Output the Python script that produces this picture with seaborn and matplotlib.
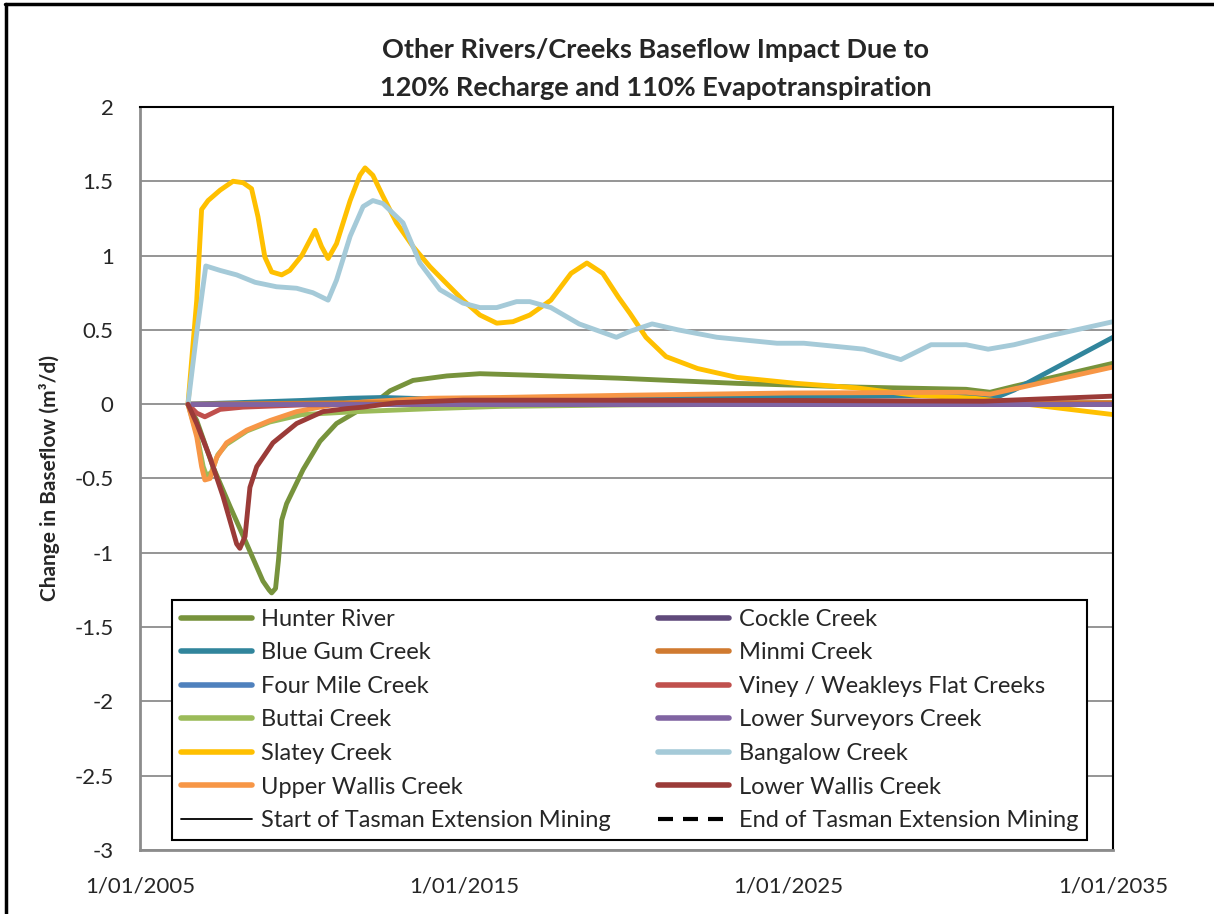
import numpy as np
import pandas as pd
import matplotlib
matplotlib.use("Agg")
import matplotlib.pyplot as plt
from matplotlib.lines import Line2D
import seaborn as sns

# ---- data (decimal years, change in baseflow m3/d) ----
hunter_x = [2006.48, 2006.75, 2007.25, 2007.78, 2008.29, 2008.79, 2008.98, 2009.06, 2009.18, 2009.27, 2009.37, 2009.52,
            2010.03, 2010.55, 2011.06, 2011.68, 2012.30, 2012.71, 2013.42, 2014.46, 2015.48, 2017.02,
            2019.75, 2023.41, 2027.08, 2030.47, 2031.21, 2031.95, 2035.0]
hunter_y = [0, -0.11, -0.42, -0.69, -0.94, -1.19, -1.25, -1.27, -1.24, -1.05, -0.78, -0.67,
            -0.44, -0.25, -0.13, -0.05, 0.02, 0.09, 0.16, 0.19, 0.205, 0.195,
            0.175, 0.14, 0.115, 0.10, 0.08, 0.12, 0.275]

bluegum_x = [2006.48, 2008.0, 2010.0, 2011.5, 2012.5, 2014.0, 2020.0, 2030.0, 2031.45, 2031.95, 2035.0]
bluegum_y = [0, 0.01, 0.025, 0.04, 0.045, 0.035, 0.04, 0.06, 0.05, 0.095, 0.45]

fourmile_x = [2006.48, 2015.0, 2035.0]
fourmile_y = [0, 0.005, 0.005]

buttai_x = [2006.48, 2006.75, 2006.95, 2007.05, 2007.20, 2007.40, 2007.67, 2008.30, 2009.00, 2010.00,
            2011.70, 2014.00, 2016.10, 2020.0, 2025.0, 2035.0]
buttai_y = [0, -0.20, -0.42, -0.48, -0.46, -0.34, -0.27, -0.18, -0.12, -0.07,
            -0.05, -0.03, -0.015, -0.005, 0.0, 0.01]

slatey_x = [2006.48, 2006.75, 2006.90, 2007.10, 2007.47, 2007.87, 2008.18, 2008.44, 2008.64, 2008.85,
            2009.06, 2009.37, 2009.62, 2009.99, 2010.40, 2010.60, 2010.80, 2011.06, 2011.48, 2011.78,
            2011.94, 2012.18, 2012.49, 2012.91, 2013.42, 2013.94, 2014.46, 2014.96, 2015.48, 2016.00,
            2016.50, 2017.02, 2017.67, 2018.29, 2018.78, 2019.27, 2019.75, 2020.11, 2020.60, 2021.22,
            2022.19, 2023.41, 2025.23, 2027.08, 2028.90, 2030.71, 2031.95, 2035.0]
slatey_y = [0, 0.70, 1.31, 1.37, 1.44, 1.50, 1.49, 1.45, 1.26, 0.99,
            0.89, 0.87, 0.90, 1.00, 1.17, 1.06, 0.98, 1.08, 1.37, 1.54,
            1.59, 1.54, 1.40, 1.22, 1.06, 0.925, 0.81, 0.70, 0.60, 0.545,
            0.555, 0.60, 0.70, 0.88, 0.95, 0.88, 0.72, 0.61, 0.45, 0.32,
            0.24, 0.18, 0.14, 0.11, 0.06, 0.04, 0.01, -0.07]

upperwallis_x = [2006.48, 2006.75, 2006.90, 2007.00, 2007.16, 2007.36, 2007.67, 2008.29, 2009.01, 2009.83,
                 2010.86, 2011.88, 2013.94, 2016.10, 2020.0, 2025.0, 2030.47, 2031.21, 2035.0]
upperwallis_y = [0, -0.22, -0.42, -0.51, -0.50, -0.36, -0.26, -0.175, -0.11, -0.05,
                 -0.007, 0.015, 0.04, 0.045, 0.06, 0.075, 0.08, 0.067, 0.25]

cockle_x = [2006.48, 2035.0]
cockle_y = [0, 0]

minmi_x = [2006.48, 2012.0, 2035.0]
minmi_y = [0, 0.01, 0.01]

viney_x = [2006.48, 2006.75, 2007.00, 2007.47, 2008.18, 2010.0, 2015.0, 2035.0]
viney_y = [0, -0.06, -0.085, -0.035, -0.02, -0.005, 0.0, 0.0]

lowersurv_x = [2006.48, 2035.0]
lowersurv_y = [0, 0]

bangalow_x = [2006.48, 2006.75, 2007.03, 2007.47, 2007.98, 2008.55, 2009.21, 2009.83, 2010.33, 2010.80,
              2011.06, 2011.48, 2011.88, 2012.18, 2012.49, 2013.11, 2013.63, 2014.25, 2014.96, 2015.48,
              2016.00, 2016.61, 2017.02, 2017.67, 2018.54, 2019.69, 2020.11, 2020.79, 2021.59, 2022.79,
              2024.64, 2025.47, 2027.32, 2028.46, 2029.39, 2030.47, 2031.15, 2031.95, 2033.15, 2035.0]
bangalow_y = [0, 0.48, 0.93, 0.90, 0.87, 0.82, 0.79, 0.78, 0.75, 0.70,
              0.835, 1.13, 1.33, 1.37, 1.35, 1.22, 0.95, 0.77, 0.68, 0.65,
              0.65, 0.69, 0.69, 0.65, 0.54, 0.45, 0.49, 0.54, 0.50, 0.45,
              0.41, 0.41, 0.37, 0.30, 0.40, 0.40, 0.37, 0.40, 0.465, 0.555]

lowerwallis_x = [2006.48, 2006.75, 2007.16, 2007.56, 2007.98, 2008.08, 2008.24, 2008.39, 2008.60, 2009.10,
                 2009.83, 2010.64, 2011.37, 2011.88, 2012.91, 2014.96, 2017.02, 2025.0, 2031.0, 2035.0]
lowerwallis_y = [0, -0.13, -0.36, -0.62, -0.94, -0.97, -0.89, -0.56, -0.42, -0.26,
                 -0.13, -0.05, -0.03, -0.02, 0.01, 0.027, 0.027, 0.025, 0.02, 0.054]

series_names = ["Hunter River", "Blue Gum Creek", "Four Mile Creek", "Buttai Creek", "Slatey Creek",
                "Upper Wallis Creek", "Cockle Creek", "Minmi Creek", "Viney / Weakleys Flat Creeks",
                "Lower Surveyors Creek", "Bangalow Creek", "Lower Wallis Creek"]
series_data = [(hunter_x, hunter_y), (bluegum_x, bluegum_y), (fourmile_x, fourmile_y),
               (buttai_x, buttai_y), (slatey_x, slatey_y), (upperwallis_x, upperwallis_y),
               (cockle_x, cockle_y), (minmi_x, minmi_y), (viney_x, viney_y),
               (lowersurv_x, lowersurv_y), (bangalow_x, bangalow_y), (lowerwallis_x, lowerwallis_y)]
colors = ["#77933C", "#31859C", "#4F81BD", "#9BBB59", "#FFC000", "#F79646",
          "#604A7B", "#D07A30", "#C0504D", "#8064A2", "#A5CAD8", "#9B3B38"]

y_ticks = [-3, -2.5, -2, -1.5, -1, -0.5, 0, 0.5, 1, 1.5, 2]
x_ticks = [2005, 2015, 2025, 2035]
x_tick_labels = ["1/01/2005", "1/01/2015", "1/01/2025", "1/01/2035"]

rows = []
for name, (xs, ys) in zip(series_names, series_data):
    for x, y in zip(xs, ys):
        rows.append({"series": name, "year": x, "value": y})
df = pd.DataFrame(rows)

sns.set_style("white")
plt.rcParams["font.family"] = ["Lato", "DejaVu Sans"]

fig = plt.figure(figsize=(12.14, 9.14), dpi=100)
ax = fig.add_axes([0.1153, 0.070, 0.8015, 0.813])

for y in y_ticks:
    ax.axhline(y, color="#8C8C8C", lw=1.3, zorder=0)

sns.lineplot(data=df, x="year", y="value", hue="series", hue_order=series_names,
             palette=dict(zip(series_names, colors)), linewidth=3.5, sort=True,
             estimator=None, ax=ax, legend=False)
for ln in ax.get_lines():
    ln.set_solid_joinstyle("round")
    ln.set_solid_capstyle("round")

ax.set_xlim(2005, 2035)
ax.set_ylim(-3, 2)
ax.set_xticks(x_ticks)
ax.set_xticklabels(x_tick_labels, fontsize=16)
ax.set_yticks(y_ticks)
ax.set_yticklabels([f"{v:g}" for v in y_ticks], fontsize=16)
ax.tick_params(axis="x", length=0, pad=19)
ax.tick_params(axis="y", length=5, color="#8C8C8C", pad=14)
ax.set_xlabel("")
ax.set_ylabel("Change in Baseflow (m³/d)", fontsize=15, fontweight="bold", labelpad=10)

for side in ["left", "bottom"]:
    ax.spines[side].set_color("#8C8C8C")
    ax.spines[side].set_linewidth(2)
for side in ["top", "right"]:
    ax.spines[side].set_color("black")
    ax.spines[side].set_linewidth(1.5)

handles = [Line2D([], [], color=c, lw=4) for c in colors[:6]]
handles.append(Line2D([], [], color="black", lw=1.3))
handles += [Line2D([], [], color=c, lw=4) for c in colors[6:]]
handles.append(Line2D([], [], color="black", lw=3, dashes=(3.6, 2.4)))
labels = series_names[:6] + ["Start of Tasman Extension Mining"] + series_names[6:] + ["End of Tasman Extension Mining"]

leg = ax.legend(handles, labels, ncol=2, loc="lower left",
                bbox_to_anchor=(0.033, 0.0135), fontsize=17,
                frameon=True, fancybox=False, edgecolor="black", framealpha=1,
                handlelength=3.0, handletextpad=0.4, labelspacing=0.53, borderpad=0.38,
                columnspacing=2.0, borderaxespad=0)
leg.get_frame().set_linewidth(1.5)

fig.text(0.54, 0.945, "Other Rivers/Creeks Baseflow Impact Due to", ha="center", va="center",
         fontsize=19.5, fontweight="bold")
fig.text(0.54, 0.904, "120% Recharge and 110% Evapotranspiration", ha="center", va="center",
         fontsize=19.5, fontweight="bold")

# outer frame (top and left edges visible)
fig.add_artist(Line2D([0.004, 1.0], [0.996, 0.996], transform=fig.transFigure, color="black", lw=2.5))
fig.add_artist(Line2D([0.005, 0.005], [0.0, 0.996], transform=fig.transFigure, color="black", lw=2.5))

fig.savefig("out.png", dpi=100)
